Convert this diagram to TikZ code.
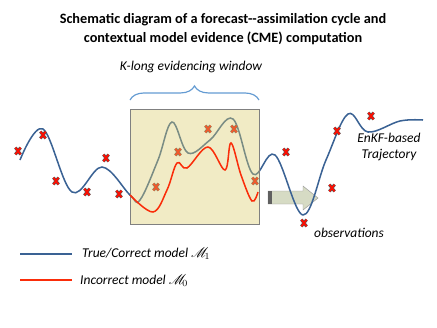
\documentclass[tikz,border=0pt]{standalone}
\usepackage{fontspec}
\setmainfont{Carlito}
\usepackage{mathrsfs}
\usetikzlibrary{decorations.pathreplacing}
\definecolor{trueblue}{RGB}{58,98,148}
\definecolor{wrongred}{RGB}{250,45,10}
\definecolor{bracecol}{RGB}{100,155,210}
\definecolor{winfill}{RGB}{220,205,110}
\definecolor{arrowfill}{RGB}{214,219,196}
\begin{document}
\begin{tikzpicture}[
    x=0.03cm, y=-0.03cm,
    truecurve/.style={draw=trueblue, line width=1.3pt, smooth, tension=0.6},
    wrongcurve/.style={draw=wrongred, line width=1.3pt, smooth, tension=0.6},
    winbox/.style={draw=gray, line width=0.8pt, fill=winfill, fill opacity=0.4},
    lbl/.style={font=\itshape\fontsize{11.5}{13.5}\selectfont, inner sep=0pt},
    obs/.pic={
      \draw[line width=2.6pt, black!65] (-2.6,-3.4) -- (2.6,3.4) (-2.6,3.4) -- (2.6,-3.4);
      \draw[line width=1.5pt, red!90!orange] (-2.6,-3.4) -- (2.6,3.4) (-2.6,3.4) -- (2.6,-3.4);
    },
]
\useasboundingbox (0,0) rectangle (437,328);

% Titel
\node[font=\bfseries\fontsize{12.2}{16.2}\selectfont, align=center] (title) at (223,29)
  {Schematic diagram of a forecast{-}{-}assimilation cycle and\\contextual model evidence (CME) computation};

% Fenster
\node[lbl] (wintitle) at (191,67) {K-long evidencing window};
\draw[bracecol, line width=1pt, decorate, decoration={brace, amplitude=12pt}] (130,100) -- (259,100);

% Vorhersagepfeil
\draw[gray!80, fill=arrowfill] (268,191) -- (303,191) -- (303,186) -- (318,198) -- (303,210) -- (303,204) -- (268,204) -- cycle;
\fill[gray!75!black] (268,191) rectangle (272,204);

% wahres Modell
\draw[truecurve] plot coordinates {(20,160) (43,129) (72,192) (102,167) (130,195) (140,200)
  (158,160) (172,122) (188,153) (210,140) (233,119) (253,174) (275,155) (303,215)
  (326,160) (348,114) (368,132) (400,121) (423,120)};

% Beobachtungen
\foreach \px/\py in {18/151, 43/135, 56/181, 87/192, 106/158, 119/194, 156/187, 178/152,
    208/129, 234/129, 255/181, 286/152, 304/223, 332/188, 337/131, 371/116}
  \pic at (\px,\py) {obs};

\draw[winbox] (130,109) rectangle (259,224);

% falsches Modell
\draw[wrongcurve] plot coordinates {(130,195) (153,212) (167,190) (177,163) (187,168)
  (208,147) (225,170) (231,143) (241,175) (252,201) (258,192)};

% Beschriftungen
\node[lbl, align=center] (enkf) at (389,147) {EnKF-based\\Trajectory};
\node[lbl] (obstext) at (349,233) {observations};

% Legende
\coordinate (tb0) at (20,254);
\coordinate (tb1) at (72,254);
\coordinate (wr0) at (20,280);
\coordinate (wr1) at (72,280);
\draw[trueblue, line width=1.8pt] (tb0) -- (tb1);
\draw[wrongred, line width=1.8pt] (wr0) -- (wr1);
\node[lbl, anchor=west] (truelbl) at (82,254) {True/Correct model $\mathscr{M}_{\!1}$};
\node[lbl, anchor=west] (wronglbl) at (80,281) {Incorrect model $\mathscr{M}_{\!0}$};
\end{tikzpicture}
\end{document}
